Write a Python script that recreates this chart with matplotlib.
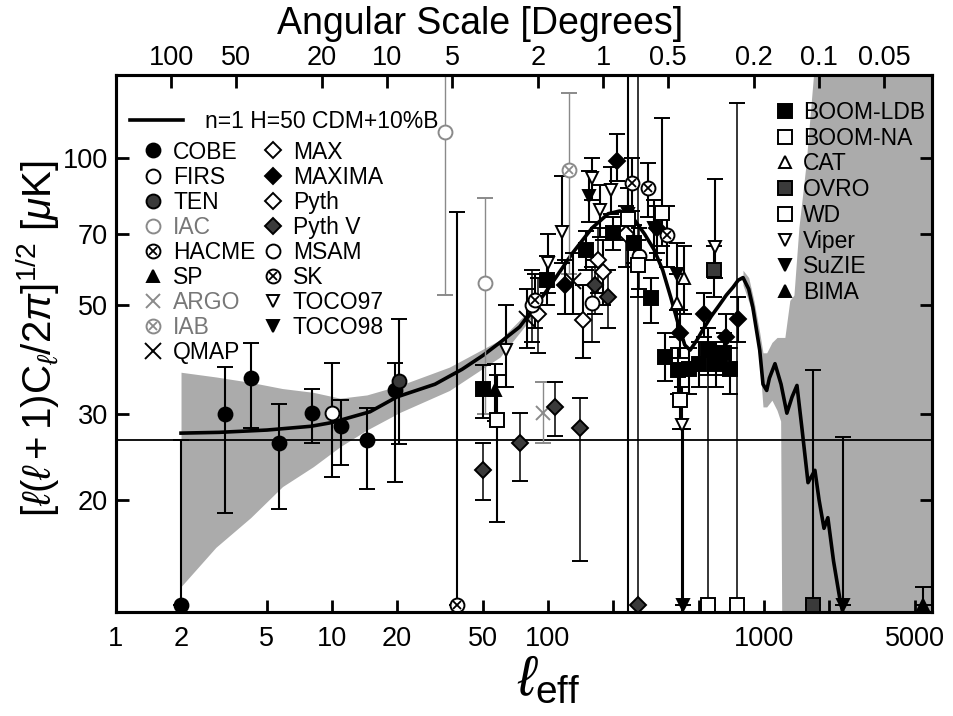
import numpy as np
import matplotlib
matplotlib.use('Agg')
import matplotlib.pyplot as plt
from matplotlib.lines import Line2D
from matplotlib.ticker import NullLocator

plt.rcParams['font.family'] = ['Liberation Sans', 'DejaVu Sans']
plt.rcParams['mathtext.fontset'] = 'custom'
plt.rcParams['mathtext.rm'] = 'Liberation Sans'
plt.rcParams['mathtext.it'] = 'Liberation Sans:italic'
plt.rcParams['mathtext.bf'] = 'Liberation Sans:bold'

# theory curve  n=1 H=50 CDM+10%B
theory_l = [2, 3, 5, 8, 10, 15, 20, 30, 40, 50, 60, 74, 100, 130, 160, 190, 215, 245, 280, 310,
            340, 370, 400, 430, 455, 490, 520, 570, 620, 670, 720, 760, 800, 850, 888, 920, 956,
            990, 1030, 1060, 1125, 1200, 1277, 1350, 1422, 1500, 1600, 1722, 1800, 1897, 1977,
            2100, 2250, 2400]
theory_v = [27.4, 27.5, 27.8, 28.3, 28.8, 30.3, 32.5, 34.5, 37, 39.5, 42, 45.2, 54, 64, 72, 77, 78,
            76, 70, 65, 59, 52, 46, 41.5, 40.5, 42.5, 44.5, 47.5, 50, 52.5, 54.5, 56.3, 57, 54,
            49.6, 45, 40.5, 34.5, 33.5, 35.5, 38, 34.5, 30.1, 32.5, 34.3, 28, 21.7, 23, 20, 17.5,
            18.4, 15, 12.5, 11]

# sample variance band, low l
band1_l = [2.0, 2.9, 4.2, 5.9, 8.2, 10.9, 14.5, 20.6, 35, 60, 90]
band1_hi = [36.5, 35.7, 34.8, 33.8, 33.2, 32.3, 32.8, 34.3, 37.4, 42.5, 51]
band1_lo = [13.3, 16.0, 18.4, 21.3, 23.4, 25.7, 27.8, 30.2, 33.5, 39.2, 49]
# band, high l
band2_l = [800, 850, 900, 956, 990, 1030, 1089, 1150, 1195, 1211, 1250, 1318, 1377, 1452, 1565, 1722, 6000]
band2_hi = [59, 57, 51, 44, 40, 40, 42, 43, 43, 43, 43, 51.2, 52.5, 72.2, 96.8, 160, 160]
band2_lo = [55, 51, 47, 38, 31, 31, 32, 30.5, 29, 10, 10, 10, 10, 10, 10, 10, 10]

# data: (l, value, lower end, upper end)
cobe = ([2, 3.2, 4.2, 5.7, 8.1, 11, 14.5, 19.5],
        [12.2, 30.0, 35.6, 26.1, 30.1, 28.4, 26.5, 33.6],
        [12.2, 18.8, 28.1, 19.2, 26.1, 23.6, 21.1, 21.8],
        [26.5, 37.4, 41.9, 31.5, 33.8, 32.1, 30.9, 38.1])
firs = ([10], [30.1], [22.3], [38.1])
ten = ([20.5], [35.0], [26.0], [47.0])
iac = ([33.4, 51], [113, 55.5], [52.5, 30], [160, 82.8])
hacme = ([38], [12.2], [12.2], [77.5])
sp = ([57], [33.5], [29], [38])
argo = ([95], [30.1], [26.1], [34.8])
iab = ([125], [94.5], [58], [136])
qmap = ([80, 130], [47, 56], [41, 48], [54, 64])
maxx = ([145, 180], [46.6, 58.4], [39, 50], [55, 68])
maxima = ([120, 209, 320, 410, 530, 670, 760],
          [55, 98.6, 72, 44, 48, 43, 47],
          [48, 90, 64, 39, 43, 38, 42],
          [62, 112, 80, 49, 53, 48, 52])
pyth = ([90, 170, 230], [48, 62, 70], [40, 53, 60], [57, 72, 80])
pythv = ([50, 74, 108, 141, 165, 190, 261],
         [23, 26.1, 31, 28.1, 55, 52, 12.2],
         [20, 21.9, 27, 15, 48, 45, 12.2],
         [26.1, 30.1, 34.8, 32.3, 62, 59, 160])
msam = ([84, 160, 263], [50, 50.5, 63], [42, 42, 54], [59, 60, 72])
sk = ([87, 246, 290, 357], [51.3, 89, 87, 69.6], [45, 78, 76, 60], [58, 100, 98, 80])
toco97 = ([64, 100, 116, 160, 174, 196],
          [40.5, 61, 70.6, 91, 78.3, 86],
          [34, 53, 61, 82, 69, 77],
          [50, 70, 92, 100, 88, 96])
toco98 = ([155, 235, 310, 395, 420], [83.6, 77, 72, 58, 12.2], [74, 68, 62, 49, 12.2], [94, 87, 82, 67, 28])
boom_ldb = ([50, 99, 150, 200, 250, 300, 350, 400, 450, 500, 550, 600, 650, 700],
            [33.8, 56.3, 64.9, 70.3, 67, 51.7, 39.2, 36.8, 37, 38, 40.5, 38, 40, 37],
            [29.4, 50, 59, 65, 61, 46, 35, 33, 33, 34, 36, 34, 36, 33],
            [37.7, 63, 71, 76, 73, 57, 44, 41, 41, 42, 45, 42, 44, 41])
boom_na = ([58, 236, 261, 337, 408], [29.1, 75, 60.4, 77.2, 32], [18, 11, 52, 66, 28], [36, 160, 68, 121, 36])
cat = ([395, 427], [50.5, 56.8], [43, 48], [58, 66])
ovro = ([590, 1686], [59, 12.2], [52, 12.2], [66, 36.8])
wd = ([550, 750], [12.2, 12.2], [12.2, 12.2], [45, 130])
viper = ([417, 593], [28.5, 65.8], [11, 57], [34, 90.8])
suzie = ([2322], [12.2], [12.2], [26.9])
bima = ([5450], [12.2], [12.2], [13.3])

x_ticks = [1, 2, 5, 10, 20, 50, 100, 200, 500, 1000, 2000, 5000]
x_labels = ['1', '2', '5', '10', '20', '50', '100', '', '', '1000', '', '5000']
y_ticks = [20, 30, 50, 70, 100]
deg_ticks = [100, 50, 20, 10, 5, 2, 1, 0.5, 0.2, 0.1, 0.05]
deg_labels = ['100', '50', '20', '10', '5', '2', '1', '0.5', '0.2', '0.1', '0.05']

GREY = '#8a8a8a'
DARK = '#3a3a3a'

fig = plt.figure(figsize=(9.54, 7.16), dpi=100)
ax = fig.add_axes([116 / 954, 1 - 612 / 716, 816 / 954, 537 / 716])
ax.set_xscale('log')
ax.set_yscale('log')
ax.set_xlim(1, 6000)
ax.set_ylim(11.8, 148)

ax.fill_between(band1_l, band1_lo, band1_hi, color='#ababab', lw=0, zorder=1)
ax.fill_between(band2_l, band2_lo, band2_hi, color='#ababab', lw=0, zorder=1)
ax.axhline(26.5, color='black', lw=1.3, zorder=2)
ax.plot(theory_l, theory_v, color='black', lw=2.6, zorder=2.8)


def draw(data, marker, face, edge='black', ms=9, ecolor='black', lw=1.5, cross=False):
    l, v, lo, hi = (np.array(a, float) for a in data)
    ax.errorbar(l, v, yerr=[v - lo, hi - v], fmt=marker, mfc=face, mec=edge, ms=ms, mew=1.4,
                ecolor=ecolor, elinewidth=lw, capsize=5.5, capthick=lw, zorder=3)
    if cross:
        ax.plot(l, v, 'x', color=edge, ms=ms * 0.6, mew=1.3, zorder=3.1)


draw(cobe, 'o', 'black', ms=10)
draw(firs, 'o', 'white', ms=10)
draw(ten, 'o', DARK, ms=10)
draw(iac, 'o', 'white', edge=GREY, ecolor=GREY, lw=1.0, ms=10)
draw(hacme, 'o', 'white', ms=10, cross=True)
draw(sp, '^', 'black', ms=9)
draw(argo, 'x', 'none', edge=GREY, ecolor=GREY, lw=1.0, ms=10)
draw(iab, 'o', 'white', edge=GREY, ecolor=GREY, lw=1.0, ms=10, cross=True)
draw(qmap, 'x', 'none', ms=11)
draw(maxx, 'D', 'white', ms=8)
draw(maxima, 'D', 'black', ms=8)
draw(pyth, 'D', 'white', ms=8, lw=1.1)
draw(pythv, 'D', DARK, ms=8, lw=1.1)
draw(msam, 'o', 'white', ms=10, lw=1.1)
draw(sk, 'o', 'white', ms=10, cross=True)
draw(toco97, 'v', 'white', ms=9)
draw(toco98, 'v', 'black', ms=9)
draw(boom_ldb, 's', 'black', ms=10)
draw(boom_na, 's', 'white', ms=10)
draw(cat, '^', 'white', ms=9)
draw(ovro, 's', DARK, ms=10)
draw(wd, 's', 'white', ms=10, lw=1.1)
draw(viper, 'v', 'white', ms=9)
draw(suzie, 'v', 'black', ms=9)
draw(bima, '^', 'black', ms=9)

ax.set_xticks(x_ticks)
ax.set_xticklabels(x_labels)
ax.set_yticks(y_ticks)
ax.set_yticklabels([str(t) for t in y_ticks])
ax.xaxis.set_minor_locator(NullLocator())
ax.yaxis.set_minor_locator(NullLocator())
ax.tick_params(axis='both', direction='in', length=9, width=2, labelsize=19.5,
               right=True, top=False)
ax.tick_params(axis='x', pad=10)
ax.tick_params(axis='y', pad=6)
for s in ax.spines.values():
    s.set_linewidth(2.2)

ax2 = ax.twiny()
ax2.set_xscale('log')
ax2.set_xlim(180 / 1, 180 / 6000)
ax2.set_xticks(deg_ticks)
ax2.set_xticklabels(deg_labels)
ax2.xaxis.set_minor_locator(NullLocator())
ax2.tick_params(direction='in', length=9, width=2, labelsize=19.5, pad=3)
for s in ax2.spines.values():
    s.set_linewidth(2.2)

ax.set_ylabel(r'$[\ell(\ell+1)\mathrm{C}_{\ell}/2\pi]^{1/2}$ [$\mu$K]', fontsize=29)
ax.yaxis.set_label_coords(-0.066, 0.51)
ax.set_xlabel(r'$\ell_{\mathrm{eff}}$', fontsize=40)
ax.xaxis.set_label_coords(0.53, -0.08)
fig.text(480 / 954, 1 - 24 / 716, 'Angular Scale [Degrees]', ha='center', va='center', fontsize=27)


# legends
def h(marker, face, edge='black', ms=9, cross=False):
    m = Line2D([], [], ls='none', marker=marker, mfc=face, mec=edge, ms=ms, mew=1.4)
    if cross:
        return (m, Line2D([], [], ls='none', marker='x', mec=edge, ms=ms * 0.6, mew=1.3))
    return m


leg1 = ax.legend([Line2D([], [], color='black', lw=2.6)], ['n=1 H=50 CDM+10%B'],
                 loc='upper left', bbox_to_anchor=(0.017, 0.935), frameon=False,
                 fontsize=16.5, handlelength=2.3, handletextpad=0.96, borderpad=0, borderaxespad=0)
ax.add_artist(leg1)

left_h = [h('o', 'black', ms=10), h('o', 'white', ms=10), h('o', DARK, ms=10),
          h('o', 'white', GREY, ms=10), h('o', 'white', ms=10, cross=True), h('^', 'black'),
          h('x', 'none', GREY, ms=10), h('o', 'white', GREY, ms=10, cross=True), h('x', 'none', ms=11),
          h('D', 'white', ms=8), h('D', 'black', ms=8), h('D', 'white', ms=8), h('D', DARK, ms=8),
          h('o', 'white', ms=10), h('o', 'white', ms=10, cross=True), h('v', 'white'), h('v', 'black')]
left_t = ['COBE', 'FIRS', 'TEN', 'IAC', 'HACME', 'SP', 'ARGO', 'IAB', 'QMAP',
          'MAX', 'MAXIMA', 'Pyth', 'Pyth V', 'MSAM', 'SK', 'TOCO97', 'TOCO98']
leg2 = ax.legend(left_h, left_t, ncol=2, loc='upper left', bbox_to_anchor=(0.034, 0.878),
                 frameon=False, fontsize=16.5, handlelength=0.8, handletextpad=0.48,
                 labelspacing=0.09, columnspacing=0.35, borderpad=0, borderaxespad=0)
for t in leg2.get_texts():
    if t.get_text() in ('IAC', 'ARGO', 'IAB'):
        t.set_color('#777777')
ax.add_artist(leg2)

right_h = [h('s', 'black', ms=10), h('s', 'white', ms=10), h('^', 'white'), h('s', DARK, ms=10),
           h('s', 'white', ms=10), h('v', 'white'), h('v', 'black'), h('^', 'black')]
right_t = ['BOOM-LDB', 'BOOM-NA', 'CAT', 'OVRO', 'WD', 'Viper', 'SuZIE', 'BIMA']
leg3 = ax.legend(right_h, right_t, loc='upper left', bbox_to_anchor=(0.809, 0.952),
                 frameon=False, fontsize=16.5, handlelength=0.8, handletextpad=0.38,
                 labelspacing=0.12, borderpad=0, borderaxespad=0)

fig.savefig('out.png', dpi=100)
